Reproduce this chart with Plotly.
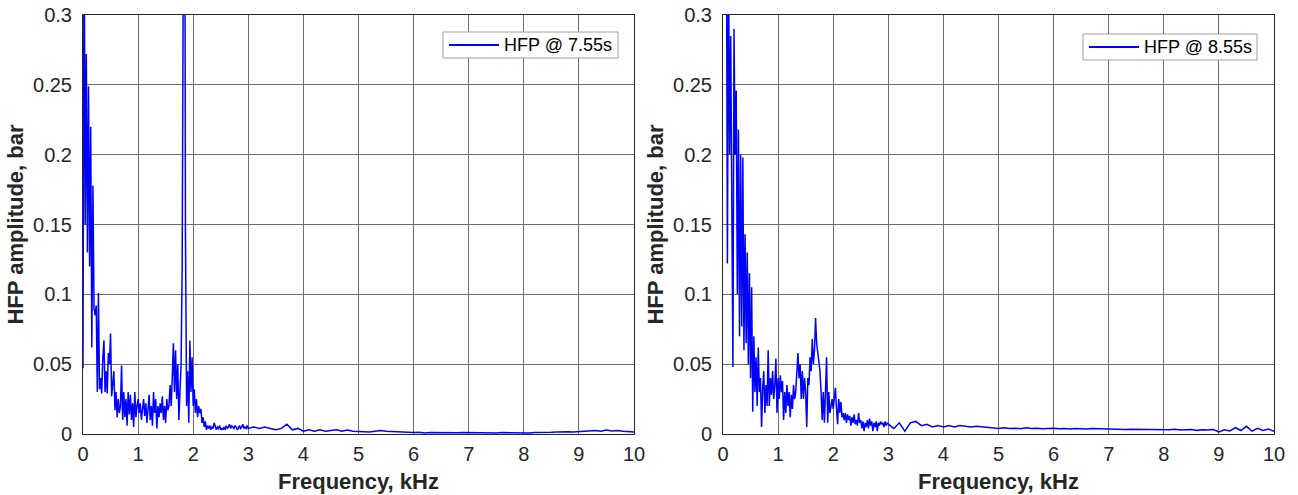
import numpy as np
import plotly.graph_objects as go

# ---------------- data ----------------
# low-frequency part: 0.00 .. 2.98 kHz, step 0.02 kHz
df_low = 0.02
n_low = 150
# high-frequency part: 3.0 .. 10.0 kHz, step 0.1 kHz
df_high = 0.1
n_high = 71

amp_755_low = [
    0.047, 0.38, 0.15, 0.272, 0.13, 0.249, 0.12, 0.22, 0.062, 0.178,
    0.09, 0.085, 0.092, 0.03, 0.101, 0.032, 0.04, 0.029, 0.055, 0.067,
    0.03, 0.045, 0.029, 0.058, 0.05, 0.072, 0.027, 0.034, 0.045, 0.017,
    0.03, 0.012, 0.025, 0.015, 0.02, 0.049, 0.01, 0.03, 0.012, 0.025,
    0.006, 0.03, 0.014, 0.028, 0.01, 0.022, 0.005, 0.03, 0.012, 0.02,
    0.025, 0.015, 0.022, 0.01, 0.02, 0.025, 0.013, 0.022, 0.008, 0.018,
    0.028, 0.01, 0.02, 0.006, 0.03, 0.015, 0.025, 0.004, 0.02, 0.012,
    0.022, 0.015, 0.027, 0.01, 0.02, 0.008, 0.025, 0.017, 0.02, 0.035,
    0.02, 0.04, 0.065, 0.03, 0.06, 0.025, 0.05, 0.01, 0.04, 0.05,
    0.12, 0.42, 0.55, 0.14, 0.02, 0.045, 0.008, 0.067, 0.03, 0.055,
    0.02, 0.032, 0.015, 0.025, 0.012, 0.02, 0.015, 0.018, 0.008, 0.012,
    0.005, 0.009, 0.003, 0.006, 0.004, 0.006, 0.003, 0.005, 0.004, 0.008,
    0.005, 0.003, 0.005, 0.004, 0.006, 0.003, 0.004, 0.003, 0.005, 0.003,
    0.006, 0.004, 0.005, 0.007, 0.004, 0.006, 0.005, 0.004, 0.006, 0.005,
    0.003, 0.004, 0.006, 0.004, 0.005, 0.007, 0.004, 0.005, 0.004, 0.006,
]
amp_755_high = [
    0.004, 0.005, 0.004, 0.005, 0.004, 0.003, 0.004, 0.007, 0.003, 0.004,
    0.002, 0.003, 0.002, 0.003, 0.002, 0.0025, 0.003, 0.002, 0.0028, 0.002,
    0.0018, 0.002, 0.0015, 0.002, 0.0025, 0.002, 0.0018, 0.0015, 0.0012, 0.0015,
    0.001, 0.0012, 0.0008, 0.001, 0.0009, 0.0011, 0.0008, 0.001, 0.0009, 0.001,
    0.0009, 0.001, 0.0008, 0.001, 0.0009, 0.0008, 0.001, 0.0009, 0.0008, 0.001,
    0.0009, 0.0008, 0.001, 0.0009, 0.0011, 0.0012, 0.0015, 0.0013, 0.0016, 0.0015,
    0.0018, 0.002, 0.0022, 0.0025, 0.002, 0.0028, 0.0022, 0.0025, 0.002, 0.0018,
    0.0015,
]

amp_855_low = [
    0.5, 0.6, 0.45, 0.4, 0.122, 0.34, 0.2, 0.285, 0.165, 0.048,
    0.29, 0.2, 0.246, 0.1, 0.218, 0.07, 0.2, 0.077, 0.198, 0.06,
    0.143, 0.065, 0.13, 0.05, 0.115, 0.04, 0.105, 0.016, 0.07, 0.03,
    0.055, 0.02, 0.062, 0.03, 0.04, 0.005, 0.032, 0.045, 0.015, 0.035,
    0.02, 0.06, 0.02, 0.04, 0.028, 0.045, 0.025, 0.035, 0.054, 0.015,
    0.04, 0.025, 0.042, 0.03, 0.038, 0.01, 0.03, 0.015, 0.035, 0.02,
    0.03, 0.012, 0.028, 0.018, 0.035, 0.025, 0.03, 0.045, 0.058, 0.04,
    0.05, 0.025, 0.045, 0.025, 0.04, 0.03, 0.005, 0.04, 0.035, 0.055,
    0.045, 0.068, 0.05, 0.06, 0.083, 0.065, 0.058, 0.05, 0.045, 0.03,
    0.01, 0.03, 0.008, 0.03, 0.055, 0.008, 0.03, 0.015, 0.02, 0.025,
    0.018, 0.024, 0.033, 0.018, 0.007, 0.025, 0.015, 0.023, 0.012, 0.015,
    0.01, 0.015, 0.008, 0.014, 0.01, 0.013, 0.006, 0.012, 0.008, 0.014,
    0.007, 0.01, 0.006, 0.015, 0.008, 0.01, 0.004, 0.009, 0.002, 0.008,
    0.005, 0.01, 0.004, 0.011, 0.006, 0.009, 0.002, 0.008, 0.005, 0.009,
    0.002, 0.008, 0.006, 0.009, 0.007, 0.008, 0.005, 0.009, 0.006, 0.008,
]
amp_855_high = [
    0.007, 0.004, 0.008, 0.002, 0.008, 0.009, 0.006, 0.007, 0.005, 0.006,
    0.005, 0.006, 0.005, 0.006, 0.0055, 0.005, 0.0055, 0.005, 0.005, 0.0045,
    0.004, 0.0045, 0.004, 0.0042, 0.0038, 0.0045, 0.004, 0.0042, 0.0038, 0.004,
    0.0042, 0.0038, 0.004, 0.0036, 0.004, 0.0038, 0.0035, 0.004, 0.0038, 0.0036,
    0.0036, 0.0034, 0.0035, 0.0032, 0.0034, 0.0033, 0.0035, 0.003, 0.0034, 0.0032,
    0.0032, 0.003, 0.0034, 0.0028, 0.003, 0.0032, 0.0026, 0.003, 0.0028, 0.0032,
    0.0015, 0.003, 0.0022, 0.0045, 0.0025, 0.0055, 0.002, 0.004, 0.0025, 0.0035,
    0.002,
]

x_ticks = [0, 1, 2, 3, 4, 5, 6, 7, 8, 9, 10]
y_ticks = [0, 0.05, 0.1, 0.15, 0.2, 0.25, 0.3]
y_ticklabels = ["0", "0.05", "0.1", "0.15", "0.2", "0.25", "0.3"]
names = ["HFP @ 7.55s", "HFP @ 8.55s"]
x_title = "Frequency, kHz"
y_title = "HFP amplitude, bar"

freq = np.concatenate([
    np.round(np.arange(n_low) * df_low, 2),
    np.round(3.0 + np.arange(n_high) * df_high, 2),
])
amp_755 = amp_755_low + amp_755_high
amp_855 = amp_855_low + amp_855_high

# ---------------- figure ----------------
W, H = 1298, 495
FONT = "Liberation Sans, Arial, Helvetica, sans-serif"
TXT = "#262626"
GRID = "#6e6e6e"
BLUE = "#0000ff"


def px_x(p):
    return p / W


def px_y(p):
    return 1 - p / H


fig = go.Figure()
fig.add_trace(go.Scatter(x=freq, y=amp_755, mode="lines", name=names[0],
                         line=dict(color=BLUE, width=1.5),
                         xaxis="x", yaxis="y", showlegend=False))
fig.add_trace(go.Scatter(x=freq, y=amp_855, mode="lines", name=names[1],
                         line=dict(color=BLUE, width=1.5),
                         xaxis="x2", yaxis="y2", showlegend=False))

dom_y = [px_y(434), px_y(15)]
common_x = dict(range=[0, 10], tickvals=x_ticks, showgrid=True, gridcolor=GRID,
                gridwidth=1, zeroline=False, showline=True, linecolor=TXT,
                linewidth=1, mirror=True, ticks="outside", ticklen=2,
                tickcolor="rgba(0,0,0,0)", automargin=False,
                tickfont=dict(family=FONT, size=20, color=TXT))
common_y = dict(range=[0, 0.3], tickvals=y_ticks, ticktext=y_ticklabels,
                showgrid=True, gridcolor=GRID, gridwidth=1, zeroline=False,
                showline=True, linecolor=TXT, linewidth=1, mirror=True,
                ticks="outside", ticklen=6, tickcolor="rgba(0,0,0,0)",
                automargin=False, domain=dom_y,
                tickfont=dict(family=FONT, size=20, color=TXT),
                title=dict(text="<b>" + y_title + "</b>", standoff=3,
                           font=dict(family=FONT, size=22, color=TXT)))

x_domains = [[83, 634], [723, 1274]]
legend_boxes = [(443, 618, 32, 58), (1083, 1257, 34, 60)]

shapes = []
annotations = []
for i, (dom, box) in enumerate(zip(x_domains, legend_boxes)):
    # x-axis title, centred under each plot area
    annotations.append(dict(
        text="<b>" + x_title + "</b>", xref="paper", yref="paper",
        x=px_x((dom[0] + dom[1]) / 2), y=px_y(481),
        xanchor="center", yanchor="middle", showarrow=False,
        font=dict(family=FONT, size=22, color=TXT)))
    # legend box (MATLAB style)
    x0, x1, y0, y1 = box
    shapes.append(dict(type="rect", xref="paper", yref="paper",
                       x0=px_x(x0), x1=px_x(x1), y0=px_y(y1), y1=px_y(y0),
                       fillcolor="white", line=dict(color="#a0a0a0", width=1),
                       layer="above"))
    ym = (y0 + y1) / 2
    shapes.append(dict(type="line", xref="paper", yref="paper",
                       x0=px_x(x0 + 6), x1=px_x(x0 + 56), y0=px_y(ym), y1=px_y(ym),
                       line=dict(color=BLUE, width=2), layer="above"))
    annotations.append(dict(
        text=names[i], xref="paper", yref="paper",
        x=px_x(x0 + 59), y=px_y(ym), xanchor="left", yanchor="middle",
        showarrow=False, font=dict(family=FONT, size=18, color="#000000")))

fig.update_layout(
    width=W, height=H,
    margin=dict(l=0, r=0, t=0, b=0, autoexpand=False),
    paper_bgcolor="white", plot_bgcolor="white",
    showlegend=False,
    xaxis=dict(domain=[px_x(83), px_x(634)], anchor="y", **common_x),
    yaxis=dict(anchor="x", **common_y),
    xaxis2=dict(domain=[px_x(723), px_x(1274)], anchor="y2", **common_x),
    yaxis2=dict(anchor="x2", **common_y),
    shapes=shapes,
    annotations=annotations,
)

fig.write_html("out.html")
